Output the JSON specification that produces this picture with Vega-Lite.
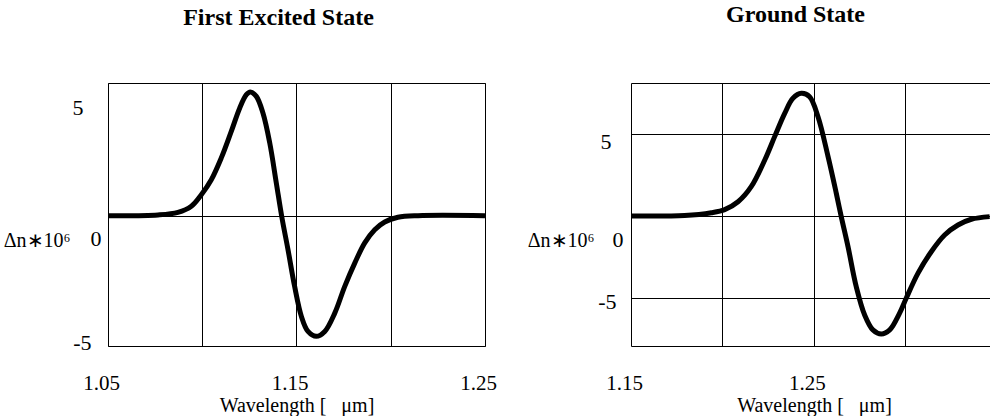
{
  "$schema": "https://vega.github.io/schema/vega-lite/v6.json",
  "background": "white",
  "padding": {"left": 2, "top": 3, "right": 0, "bottom": 0},
  "datasets": {
    "excited": [
      {"wl": 1.05, "dn": 0}, {"wl": 1.0765, "dn": 0.03}, {"wl": 1.0871, "dn": 0.14}, {"wl": 1.0942, "dn": 0.4},
      {"wl": 1.0995, "dn": 0.89}, {"wl": 1.1048, "dn": 1.53}, {"wl": 1.1101, "dn": 2.46}, {"wl": 1.1154, "dn": 3.59},
      {"wl": 1.1199, "dn": 4.59}, {"wl": 1.1234, "dn": 5.15}, {"wl": 1.1255, "dn": 5.27}, {"wl": 1.1287, "dn": 5.08},
      {"wl": 1.1322, "dn": 4.37}, {"wl": 1.1358, "dn": 3.1}, {"wl": 1.1393, "dn": 1.39}, {"wl": 1.1422, "dn": -0.05},
      {"wl": 1.1455, "dn": -1.45}, {"wl": 1.149, "dn": -3.01}, {"wl": 1.1526, "dn": -4.29}, {"wl": 1.1561, "dn": -4.93},
      {"wl": 1.1605, "dn": -5.14}, {"wl": 1.165, "dn": -4.93}, {"wl": 1.1703, "dn": -4.15}, {"wl": 1.1756, "dn": -3.01},
      {"wl": 1.1809, "dn": -2.02}, {"wl": 1.1862, "dn": -1.16}, {"wl": 1.1915, "dn": -0.6}, {"wl": 1.1968, "dn": -0.27},
      {"wl": 1.2038, "dn": -0.07}, {"wl": 1.2145, "dn": 0}, {"wl": 1.25, "dn": 0}
    ],
    "ground": [
      {"wl": 1.15, "dn": 0}, {"wl": 1.1793, "dn": 0.03}, {"wl": 1.1939, "dn": 0.2}, {"wl": 1.2012, "dn": 0.39},
      {"wl": 1.2085, "dn": 0.87}, {"wl": 1.2157, "dn": 1.79}, {"wl": 1.2231, "dn": 3.41}, {"wl": 1.2285, "dn": 4.84},
      {"wl": 1.234, "dn": 6.26}, {"wl": 1.2385, "dn": 7.18}, {"wl": 1.2431, "dn": 7.48}, {"wl": 1.2476, "dn": 7.27},
      {"wl": 1.2522, "dn": 6.05}, {"wl": 1.2577, "dn": 3.62}, {"wl": 1.2622, "dn": 1.38}, {"wl": 1.2649, "dn": -0.04},
      {"wl": 1.2686, "dn": -1.87}, {"wl": 1.2731, "dn": -4.31}, {"wl": 1.2777, "dn": -6.04}, {"wl": 1.2822, "dn": -6.95},
      {"wl": 1.2868, "dn": -7.2}, {"wl": 1.2914, "dn": -6.95}, {"wl": 1.2968, "dn": -5.93}, {"wl": 1.3004, "dn": -5.02},
      {"wl": 1.3068, "dn": -3.5}, {"wl": 1.3141, "dn": -2.18}, {"wl": 1.3214, "dn": -1.16}, {"wl": 1.3287, "dn": -0.55},
      {"wl": 1.336, "dn": -0.2}, {"wl": 1.346, "dn": -0.04}
    ]
  },
  "spacing": 30,
  "hconcat": [
    {
      "width": 377,
      "height": 263,
      "view": {"stroke": "black", "strokeWidth": 1},
      "title": {"text": "First Excited State", "dx": -18, "offset": 53},
      "data": {"name": "excited"},
      "mark": {"type": "line", "color": "black", "strokeWidth": 5, "interpolate": "catmull-rom", "clip": true},
      "encoding": {
        "x": {
          "field": "wl", "type": "quantitative",
          "scale": {"domain": [1.05, 1.25], "nice": false, "zero": false},
          "axis": {
            "values": [1.05, 1.1, 1.15, 1.2, 1.25],
            "format": ".2f",
            "labelExpr": "abs((datum.value * 100) % 10 - 5) < 0.1 ? datum.label : ''",
            "title": "Wavelength [\u00a0\u00a0\u00a0μm]",
            "titleY": 49
          }
        },
        "y": {
          "field": "dn", "type": "quantitative",
          "scale": {"domain": [-5.55, 5.65], "nice": false, "zero": false},
          "axis": {
            "values": [-5, 0, 5],
            "labelExpr": "replace(datum.label, '−', '-')",
            "labelOffset": {"condition": {"test": "datum.value == 0", "value": 23}, "value": 9},
            "labelPadding": {"condition": [{"test": "datum.value == 0", "value": 7}, {"test": "datum.value > 0", "value": 25}], "value": 17},
            "gridOpacity": {"condition": {"test": "datum.value == 0", "value": 1}, "value": 0},
            "title": "Δn∗10⁶",
            "titleX": -38,
            "titleY": 157
          }
        }
      }
    },
    {
      "width": 359,
      "height": 263,
      "view": {"stroke": null},
      "title": {"text": "Ground State", "dx": -15, "offset": 53},
      "data": {"name": "ground"},
      "mark": {"type": "line", "color": "black", "strokeWidth": 5, "interpolate": "catmull-rom", "clip": true},
      "encoding": {
        "x": {
          "field": "wl", "type": "quantitative",
          "scale": {"domain": [1.15, 1.3462], "nice": false, "zero": false},
          "axis": {
            "values": [1.15, 1.2, 1.25, 1.3],
            "format": ".2f",
            "labelExpr": "abs((datum.value * 100) % 10 - 5) < 0.1 ? datum.label : ''",
            "title": "Wavelength [\u00a0\u00a0\u00a0μm]",
            "titleX": 183,
            "titleY": 49
          }
        },
        "y": {
          "field": "dn", "type": "quantitative",
          "scale": {"domain": [-7.93, 8.11], "nice": false, "zero": false},
          "axis": {
            "values": [-7.93, -5, 0, 5, 8.11],
            "labelExpr": "abs(datum.value) > 6 ? '' : replace(datum.label, '−', '-')",
            "labelOffset": {"condition": [{"test": "datum.value == 0", "value": 24}, {"test": "datum.value > 0", "value": 8}], "value": 4},
            "labelPadding": {"condition": [{"test": "datum.value == 0", "value": 8}, {"test": "datum.value > 0", "value": 20}], "value": 15},
            "title": "Δn∗10⁶",
            "titleX": -37,
            "titleY": 157
          }
        }
      }
    }
  ],
  "config": {
    "font": "Liberation Serif",
    "title": {"fontSize": 24, "fontWeight": "bold", "color": "black", "anchor": "middle", "font": "Liberation Serif"},
    "axis": {
      "domain": false,
      "ticks": false,
      "grid": true,
      "gridColor": "black",
      "gridWidth": 1,
      "labelFont": "Liberation Serif",
      "labelFontSize": 22,
      "labelColor": "black",
      "titleFont": "Liberation Serif",
      "titleColor": "black",
      "titleFontWeight": "normal"
    },
    "axisX": {
      "labelPadding": 26,
      "labelFontSize": 21,
      "labelOffset": -7,
      "labelFlush": false,
      "labelOverlap": false,
      "titleFontSize": 20,
      "titleBaseline": "top"
    },
    "axisY": {
      "titleAngle": 0,
      "titleAlign": "right",
      "titleBaseline": "middle",
      "titleFontSize": 20,
      "labelOverlap": false,
      "labelBaseline": "middle"
    }
  }
}
